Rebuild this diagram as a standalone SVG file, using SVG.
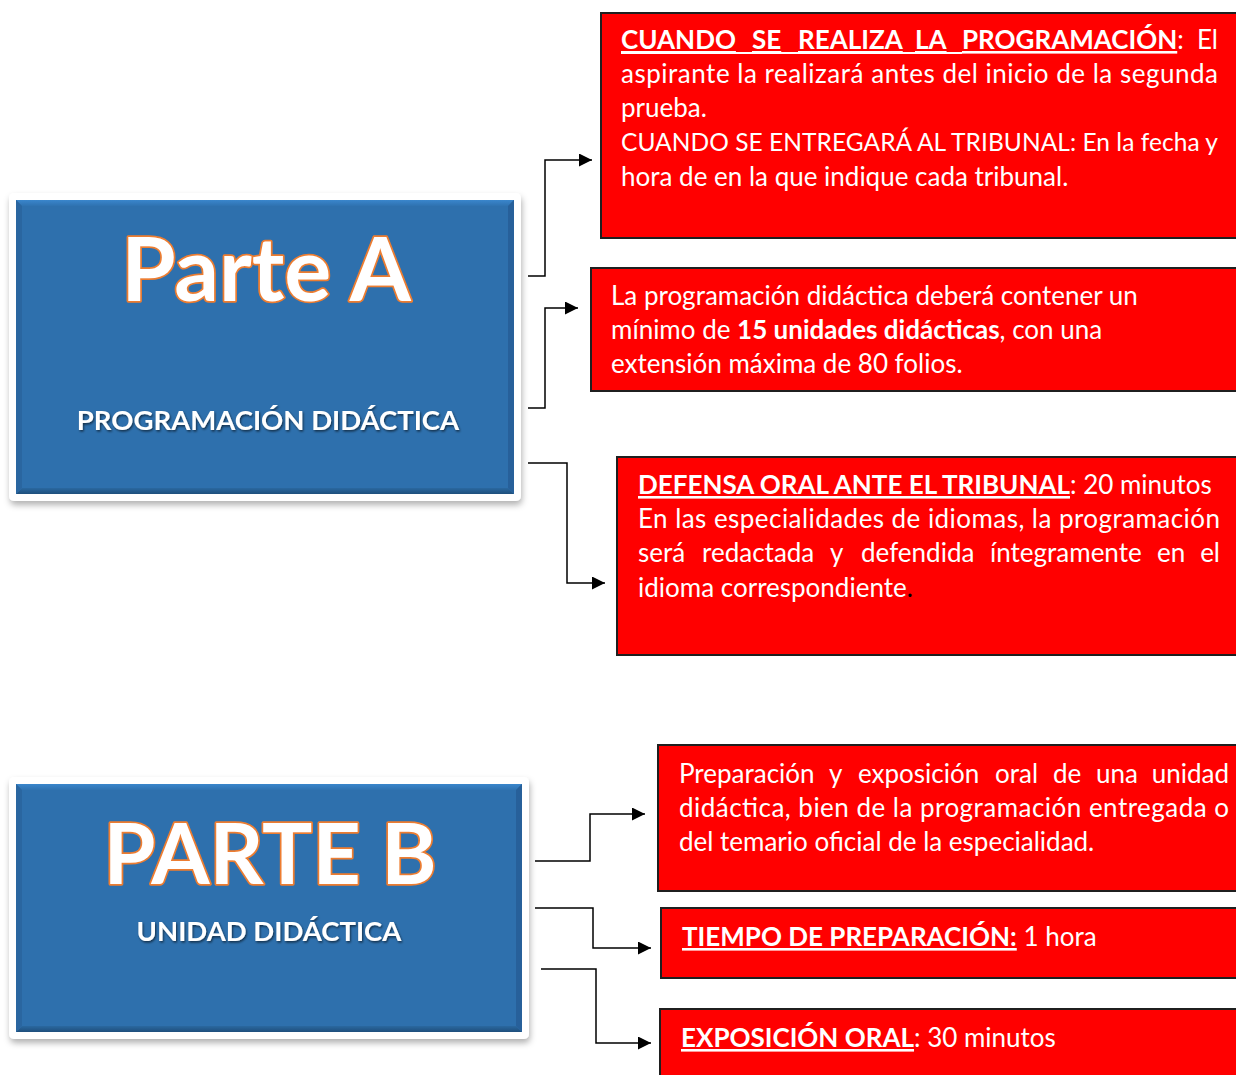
<svg xmlns="http://www.w3.org/2000/svg" width="1236" height="1075" viewBox="0 0 1236 1075">
<defs>
<style>
.frame{fill:#ffffff;}
.blue{fill:#2E70AD;}
.red{fill:#FF0000;stroke:#1f1f1f;stroke-width:2;}
.conn{fill:none;stroke:#000;stroke-width:1.5;}
.body{font-family:Lato,"Open Sans","Liberation Sans",sans-serif;font-size:26px;fill:#ffffff;}
.b{font-weight:bold;}
.u{text-decoration:underline;}
.title{font-family:Lato,"Open Sans","Liberation Sans",sans-serif;font-weight:bold;fill:#ffffff;stroke:#ED7D31;stroke-width:3.5;paint-order:stroke;stroke-linejoin:round;text-anchor:middle;}
.sub{font-family:Lato,"Open Sans","Liberation Sans",sans-serif;font-weight:bold;font-size:27.5px;fill:#ffffff;text-anchor:middle;}
</style>
<filter id="shadow" x="-10%" y="-10%" width="120%" height="130%">
<feDropShadow dx="1" dy="4" stdDeviation="3" flood-color="#000" flood-opacity="0.3"/>
</filter>
<filter id="tshadow" x="-5%" y="-20%" width="110%" height="150%">
<feDropShadow dx="1" dy="1.5" stdDeviation="1" flood-color="#000" flood-opacity="0.6"/>
</filter>
<linearGradient id="topbev" x1="0" y1="0" x2="0" y2="1">
<stop offset="0" stop-color="#3A86CC"/><stop offset="1" stop-color="#2F72B0"/>
</linearGradient>
<linearGradient id="botbev" x1="0" y1="0" x2="0" y2="1">
<stop offset="0" stop-color="#2A68A0"/><stop offset="1" stop-color="#1F4F7C"/>
</linearGradient>
<marker id="arr" viewBox="0 0 10 10" refX="10" refY="5" markerWidth="16" markerHeight="13" markerUnits="userSpaceOnUse" orient="auto">
<path d="M0,0 L10,5 L0,10 z" fill="#000"/>
</marker>
</defs>
<rect width="1236" height="1075" fill="#ffffff"/>

<g id="parteA">
<rect class="frame" x="9" y="193" width="512" height="308" rx="5" filter="url(#shadow)"/>
<rect class="blue" x="16" y="200" width="498" height="294"/>
<polygon points="16,200 514,200 508,206 22,206" fill="url(#topbev)"/>
<polygon points="16,494 514,494 508,488 22,488" fill="url(#botbev)"/>
<polygon points="16,200 22,206 22,488 16,494" fill="#2A66A0"/>
<polygon points="514,200 508,206 508,488 514,494" fill="#27609A"/>
<text class="title" x="266" y="301" font-size="88">Parte A</text>
<text class="sub" x="268" y="430" filter="url(#tshadow)">PROGRAMACIÓN DIDÁCTICA</text>
</g>

<g id="parteB">
<rect class="frame" x="9" y="777" width="520" height="262" rx="5" filter="url(#shadow)"/>
<rect class="blue" x="16" y="784" width="506" height="248"/>
<polygon points="16,784 522,784 516,790 22,790" fill="url(#topbev)"/>
<polygon points="16,1032 522,1032 516,1026 22,1026" fill="url(#botbev)"/>
<polygon points="16,784 22,790 22,1026 16,1032" fill="#2A66A0"/>
<polygon points="522,784 516,790 516,1026 522,1032" fill="#27609A"/>
<text class="title" x="270" y="884" font-size="84">PARTE B</text>
<text class="sub" x="269" y="941" filter="url(#tshadow)">UNIDAD DIDÁCTICA</text>
</g>

<g id="connectors">
<path class="conn" d="M528,276 H545 V160 H592" marker-end="url(#arr)"/>
<path class="conn" d="M528,408 H545 V308 H578" marker-end="url(#arr)"/>
<path class="conn" d="M528,463 H567 V583 H605" marker-end="url(#arr)"/>
<path class="conn" d="M535,861 H590 V814 H645" marker-end="url(#arr)"/>
<path class="conn" d="M535,908 H593 V948 H651" marker-end="url(#arr)"/>
<path class="conn" d="M541,969 H596 V1043 H651" marker-end="url(#arr)"/>
</g>

<g id="box1">
<rect class="red" x="601" y="13" width="645" height="225"/>
<text class="body" y="49">
<tspan x="621" class="b u">CUANDO</tspan><tspan x="752" class="b u">SE</tspan><tspan x="798" class="b u">REALIZA</tspan><tspan x="915" class="b u">LA</tspan><tspan x="962" class="b u">PROGRAMACIÓN</tspan><tspan>:</tspan><tspan x="1218" text-anchor="end">El</tspan>
</text>
<line x1="621" y1="53" x2="962" y2="53" stroke="#fff" stroke-width="1.8"/>
<text class="body" x="621" y="83" textLength="597" lengthAdjust="spacing">aspirante la realizará antes del inicio de la segunda</text>
<text class="body" x="621" y="117">prueba.</text>
<text class="body" x="621" y="151" style="font-size:24.5px" textLength="597" lengthAdjust="spacing">CUANDO SE ENTREGARÁ AL TRIBUNAL: En la fecha y</text>
<text class="body" x="621" y="186">hora de en la que indique cada tribunal.</text>
</g>

<g id="box2">
<rect class="red" x="591" y="268" width="655" height="123"/>
<text class="body" x="611" y="305">La programación didáctica deberá contener un</text>
<text class="body" x="611" y="339">mínimo de <tspan class="b">15 unidades didácticas</tspan>, con una</text>
<text class="body" x="611" y="373">extensión máxima de 80 folios.</text>
</g>

<g id="box3">
<rect class="red" x="617" y="457" width="629" height="198"/>
<text class="body" x="638" y="494"><tspan class="b u">DEFENSA ORAL ANTE EL TRIBUNAL</tspan>: 20 minutos</text>
<text class="body" x="638" y="528" textLength="582" lengthAdjust="spacing">En las especialidades de idiomas, la programación</text>
<text class="body" y="562"><tspan x="638">será</tspan><tspan x="702">redactada</tspan><tspan x="830">y</tspan><tspan x="861">defendida</tspan><tspan x="990">íntegramente</tspan><tspan x="1157">en</tspan><tspan x="1220" text-anchor="end">el</tspan></text>
<text class="body" x="638" y="597">idioma correspondiente<tspan fill="#000">.</tspan></text>
</g>

<g id="box4">
<rect class="red" x="658" y="745" width="588" height="146"/>
<text class="body" y="783"><tspan x="679">Preparación</tspan><tspan x="829">y</tspan><tspan x="858">exposición</tspan><tspan x="995">oral</tspan><tspan x="1053">de</tspan><tspan x="1096">una</tspan><tspan x="1229" text-anchor="end">unidad</tspan></text>
<text class="body" x="679" y="817" textLength="550" lengthAdjust="spacing">didáctica, bien de la programación entregada o</text>
<text class="body" x="679" y="851">del temario oficial de la especialidad.</text>
</g>

<g id="box5">
<rect class="red" x="661" y="908" width="585" height="70"/>
<text class="body" x="682" y="946"><tspan class="b u">TIEMPO DE PREPARACIÓN:</tspan> 1 hora</text>
</g>

<g id="box6">
<rect class="red" x="660" y="1009" width="586" height="80"/>
<text class="body" x="681" y="1047"><tspan class="b u">EXPOSICIÓN ORAL</tspan>: 30 minutos</text>
</g>
</svg>
